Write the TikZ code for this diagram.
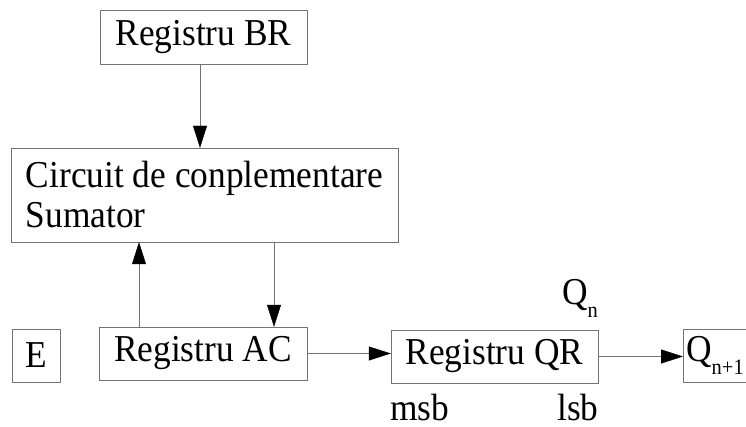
\documentclass[tikz,border=0pt]{standalone}
\usepackage{fontspec}
\setmainfont{Liberation Serif}[FakeStretch=0.93]
\usetikzlibrary{arrows.meta}
\tikzset{
  reg/.style={draw=black!55, rectangle, inner sep=0pt, minimum height=53pt},
  link/.style={draw=black!55, -{Triangle[length=22pt,width=14pt,color=black]}},
  lbl/.style={inner sep=0pt, anchor=base west}
}
\newcommand{\bigtxt}{\fontsize{38}{40}\selectfont}
\newcommand{\subtxt}[1]{\raisebox{-13pt}{\fontsize{22}{22}\selectfont #1}}

\begin{document}
\begin{tikzpicture}[x=1pt, y=-1pt, font=\bigtxt]
  \useasboundingbox (0,0) rectangle (746,427);
  \clip (0,0) rectangle (746,427);

  % Registers
  \node[reg, minimum width=207pt, minimum height=54pt] (BR) at (203.5,37) {Registru BR};
  \node[reg, minimum width=387pt, minimum height=94pt, align=left]
        (circ) at (204.5,195) {Circuit de conplementare\\Sumator};
  \node[reg, minimum width=48pt] (E) at (36,355.5) {E};
  \node[reg, minimum width=208pt] (AC) at (203,353.5) {Registru AC};
  \node[reg, minimum width=207pt] (QR) at (494.5,356.5) {Registru QR};
  \node[reg, anchor=west, minimum width=72pt, text width=66pt, align=left]
        (Q1) at (683,355.5) {Q\subtxt{n+1}};

  % Labels
  \node[lbl] (qn) at (562,305) {Q\subtxt{n}};
  \node[lbl] (msb) at (390,420) {msb};
  \node[lbl] (lsb) at (557,420) {lsb};

  % Connections
  \draw[link] ([xshift=-3.5pt]BR.south) -- ([xshift=-3.5pt]BR.south |- circ.north);
  \draw[link] ([xshift=-64pt]AC.north) -- ([xshift=-64pt]AC.north |- circ.south);
  \draw[link] ([xshift=71pt]AC.north |- circ.south) -- ([xshift=71pt]AC.north);
  \draw[link] (AC.east) -- (AC.east -| QR.west);
  \draw[link] (QR.east) -- (QR.east -| Q1.west);
\end{tikzpicture}
\end{document}
